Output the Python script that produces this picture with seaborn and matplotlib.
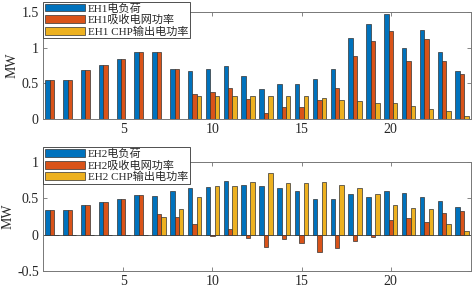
import numpy as np
import pandas as pd
import matplotlib
matplotlib.use("Agg")
import matplotlib.pyplot as plt
import seaborn as sns

# hours 1..24
hours = list(range(1, 25))

# EH1 (MW)
eh1_load = [0.55, 0.55, 0.69, 0.76, 0.84, 0.94, 0.935, 0.70, 0.674, 0.70, 0.75, 0.605,
            0.42, 0.49, 0.49, 0.56, 0.70, 1.135, 1.33, 1.47, 1.00, 1.247, 0.935, 0.674]
eh1_grid = [0.55, 0.55, 0.69, 0.76, 0.84, 0.94, 0.935, 0.70, 0.35, 0.377, 0.43, 0.284,
            0.084, 0.17, 0.17, 0.26, 0.43, 0.884, 1.10, 1.24, 0.82, 1.116, 0.82, 0.633]
eh1_chp = [0, 0, 0, 0, 0, 0, 0, 0, 0.32, 0.32, 0.32, 0.32,
           0.32, 0.32, 0.32, 0.29, 0.27, 0.25, 0.22, 0.22, 0.177, 0.135, 0.107, 0.042]

# EH2 (MW)
eh2_load = [0.336, 0.336, 0.41, 0.447, 0.488, 0.548, 0.53, 0.60, 0.645, 0.66, 0.74, 0.677,
            0.664, 0.645, 0.604, 0.493, 0.493, 0.553, 0.52, 0.604, 0.571, 0.511, 0.456, 0.373]
eh2_grid = [0.336, 0.336, 0.41, 0.447, 0.488, 0.548, 0.28, 0.244, 0.143, -0.014, 0.074, -0.05,
            -0.175, -0.06, -0.115, -0.235, -0.184, -0.083, -0.032, 0.203, 0.221, 0.166, 0.30, 0.323]
eh2_chp = [0, 0, 0, 0, 0, 0, 0.244, 0.355, 0.51, 0.673, 0.673, 0.728,
           0.85, 0.71, 0.714, 0.728, 0.682, 0.64, 0.558, 0.406, 0.364, 0.355, 0.152, 0.05]

eh1_names = ['EH1电负荷', 'EH1吸收电网功率', 'EH1 CHP输出电功率']
eh2_names = ['EH2电负荷', 'EH2吸收电网功率', 'EH2 CHP输出电功率']
colors = ['#0072BD', '#D95319', '#EDB120']

sns.set_style('ticks')
plt.rcParams['font.family'] = ['Liberation Serif', 'Noto Sans CJK SC']
plt.rcParams['axes.unicode_minus'] = True


def make_df(names, series):
    rows = []
    for name, vals in zip(names, series):
        for h, v in zip(hours, vals):
            rows.append({'hour': h, 'series': name, 'MW': v})
    return pd.DataFrame(rows)


def draw(ax, names, series, ylim, yticks, leg_y):
    df = make_df(names, series)
    sns.barplot(data=df, x='hour', y='MW', hue='series', hue_order=names,
                palette=colors, saturation=1, width=0.75, edgecolor='#333333',
                linewidth=0.5, errorbar=None, ax=ax)
    ax.axhline(0, color='#444444', lw=0.6, zorder=0.5)
    ax.set_xlim(-0.5, 23.5)
    ax.set_ylim(*ylim)
    ax.set_yticks(yticks)
    ax.set_yticklabels([f'{t:g}' for t in yticks])
    ax.set_xticks([4, 9, 14, 19])
    ax.set_xticklabels(['5', '10', '15', '20'])
    ax.set_xlabel('')
    ax.set_ylabel('MW', fontsize=10, labelpad=2)
    ax.tick_params(direction='in', top=True, right=True, length=3, width=0.5,
                   labelsize=10, color='#555555', pad=3)
    for s in ax.spines.values():
        s.set_color('#777777')
        s.set_linewidth(0.7)
    ax.legend(loc='upper left', bbox_to_anchor=(0, leg_y), borderaxespad=0,
              fontsize=8, handlelength=3.6, handleheight=0.7, handletextpad=0.3,
              labelspacing=0.1, borderpad=0.15, frameon=True, fancybox=False,
              edgecolor='#333333', framealpha=1)
    ax.get_legend().get_frame().set_linewidth(0.6)


fig = plt.figure(figsize=(4.74, 2.89), dpi=100)
ax1 = fig.add_axes([0.0907, 0.5882, 0.903, 0.3702])
ax2 = fig.add_axes([0.0907, 0.0623, 0.903, 0.378])

draw(ax1, eh1_names, [eh1_load, eh1_grid, eh1_chp], (0, 1.5), [0, 0.5, 1, 1.5], 1.096)
draw(ax2, eh2_names, [eh2_load, eh2_grid, eh2_chp], (-0.5, 1), [-0.5, 0, 0.5, 1], 1.132)

fig.savefig('out.png', dpi=100, facecolor='white')
